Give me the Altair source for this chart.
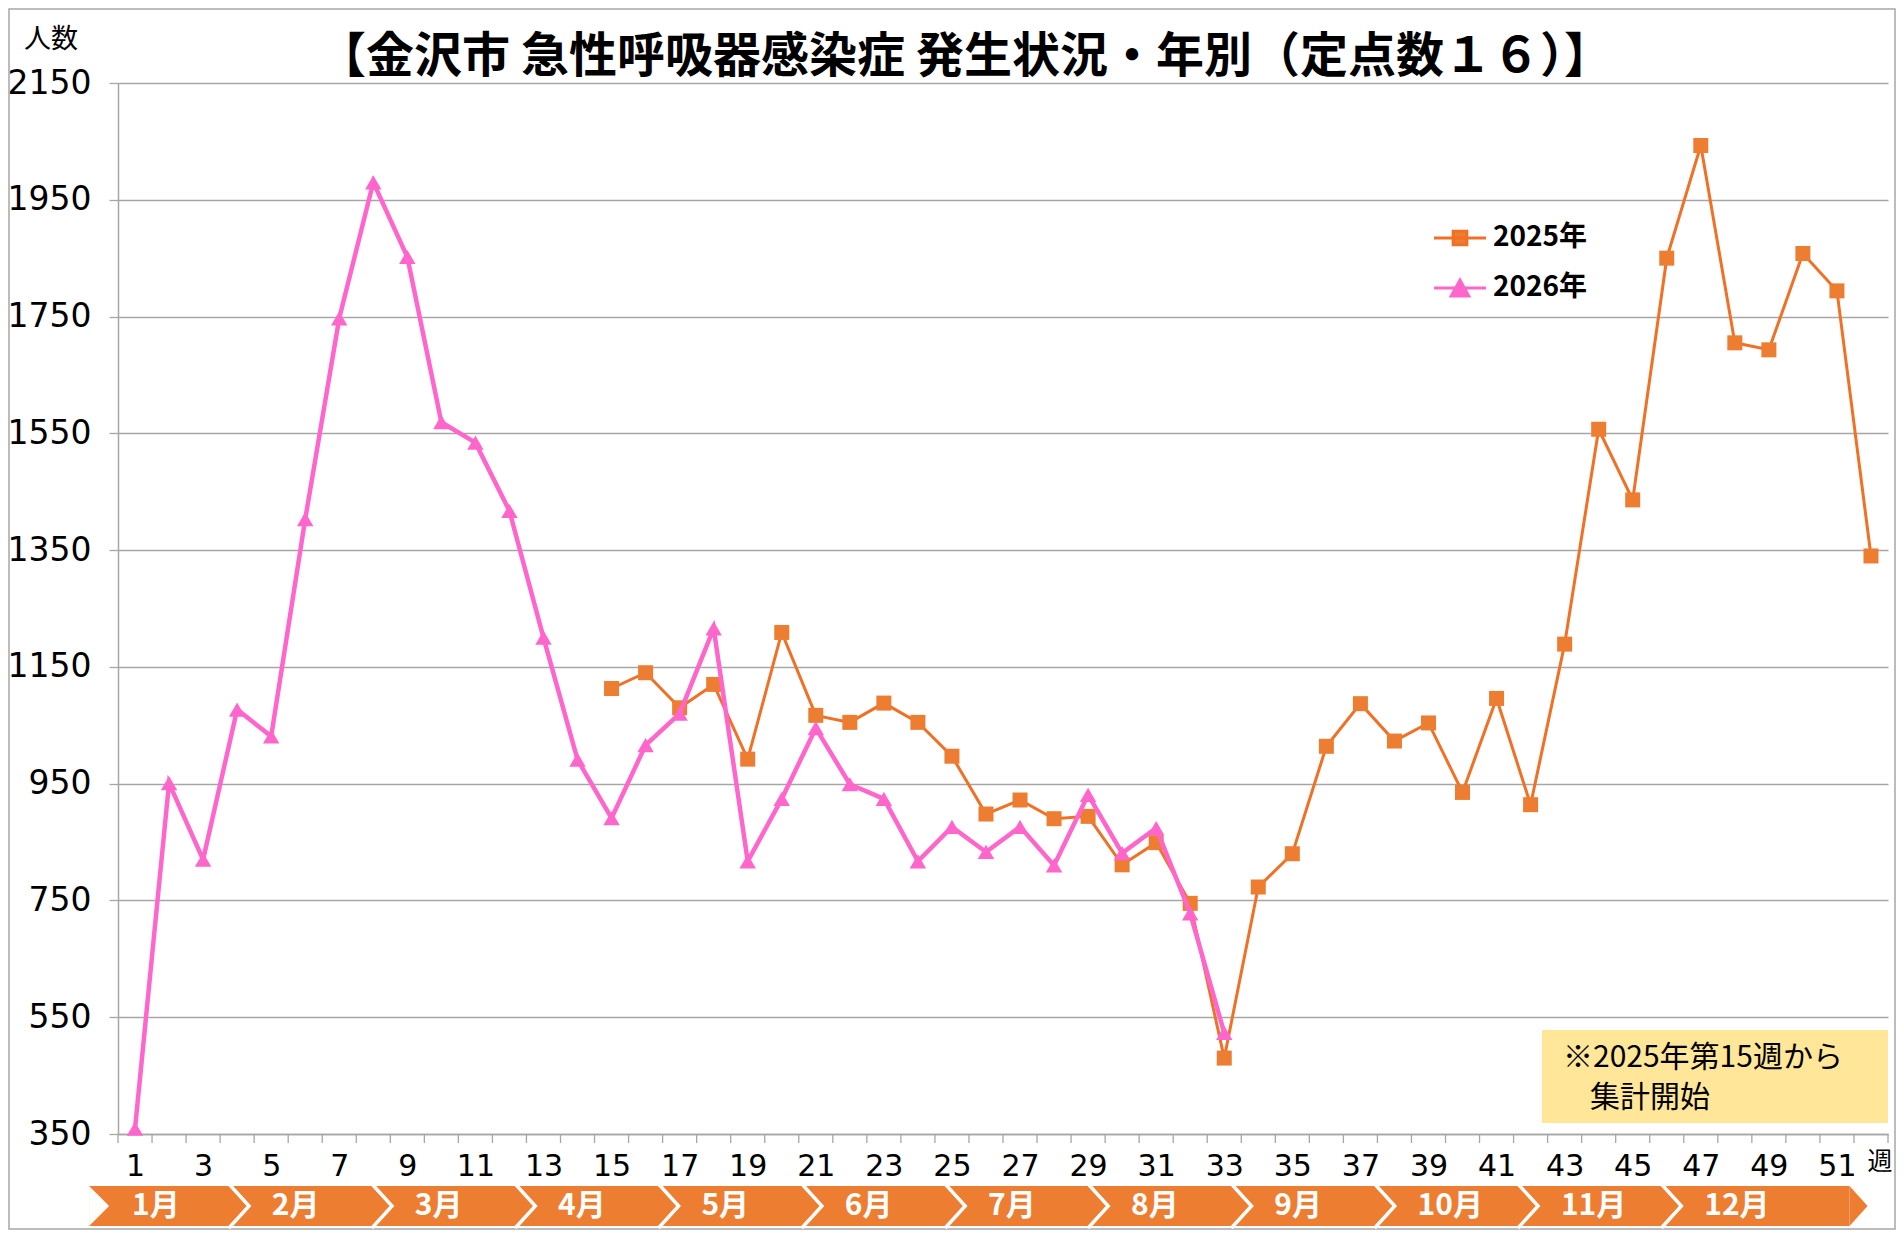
import altair as alt
import pandas as pd

# ---------------- data ----------------
series_names = ["2025年", "2026年"]

weeks_2025 = list(range(15, 53))
values_2025 = [1113, 1140, 1080, 1120, 992, 1209, 1067, 1055, 1088, 1055,
               997, 898, 922, 890, 894, 811, 849, 745, 480, 773,
               830, 1014, 1087, 1023, 1054, 935, 1096, 914, 1189, 1557,
               1436, 1850, 2043, 1705, 1693, 1858, 1794, 1340]

weeks_2026 = list(range(1, 34))
values_2026 = [359, 951, 820, 1077, 1031, 1403, 1747, 1980, 1852, 1569,
               1534, 1417, 1200, 991, 891, 1016, 1070, 1216, 817, 924,
               1045, 949, 924, 817, 876, 833, 876, 810, 931, 831,
               874, 728, 523]

all_weeks = list(range(1, 53))
x_tick_labels = list(range(1, 52, 2))
y_tick_values = list(range(350, 2151, 200))

months = ["1月", "2月", "3月", "4月", "5月", "6月",
          "7月", "8月", "9月", "10月", "11月", "12月"]
# month band segment starts, in week units
month_starts = [-0.35, 3.76, 7.96, 12.17, 16.38, 20.59,
                24.80, 29.00, 33.21, 37.42, 41.63, 45.84]
band_end = 51.37

title_text = "【金沢市 急性呼吸器感染症 発生状況・年別（定点数１６）】"
y_title = "人数"
x_unit = "週"
note_lines = ["※2025年第15週から", "集計開始"]

# ---------------- styles ----------------
W, H = 1770, 1051
ORANGE_LINE = "#F07125"
ORANGE = "#ED7D31"
PINK = "#FF66CC"
GRID = "#A6A6A6"
JP = "Noto Sans CJK JP"
NUM = "DejaVu Sans"

BAND_TOP, BAND_BOT = 1103, 1143
BAND_MID = (BAND_TOP + BAND_BOT) / 2
NOTCH = 0.59     # chevron depth in weeks
TIP = 0.53

xscale = alt.Scale(domain=[0.5, 52.5], nice=False, zero=False)
yscale = alt.Scale(domain=[350, 2150], nice=False, zero=False)

df25 = pd.DataFrame({"week": weeks_2025, "value": values_2025, "year": series_names[0]})
df26 = pd.DataFrame({"week": weeks_2026, "value": values_2026, "year": series_names[1]})

x_axis = alt.Axis(values=x_tick_labels, ticks=False, tickSize=0, grid=False,
                  domainColor=GRID, domainWidth=1.5, labelFont=NUM,
                  labelFontSize=30, labelColor="black", labelPadding=17,
                  title=None, labelFlush=False, format="d")
y_axis = alt.Axis(values=y_tick_values, grid=True, gridColor=GRID, gridWidth=1.3,
                  tickColor=GRID, tickSize=9, tickWidth=1.3, domainColor=GRID,
                  domainWidth=1.5, labelFont=NUM, labelFontSize=33,
                  labelColor="black", labelPadding=18, title=None, format="d")

base_x = alt.X("week:Q", scale=xscale, axis=x_axis)
base_y = alt.Y("value:Q", scale=yscale, axis=y_axis)

# ---------- series ----------
line25 = alt.Chart(df25).mark_line(color=ORANGE_LINE, strokeWidth=3).encode(x=base_x, y=base_y)
pts25 = alt.Chart(df25).mark_point(shape="square", filled=True, size=225, color=ORANGE,
                                   opacity=1).encode(x=alt.X("week:Q", scale=xscale),
                                                     y=alt.Y("value:Q", scale=yscale))
line26 = alt.Chart(df26).mark_line(color=PINK, strokeWidth=4.5).encode(
    x=alt.X("week:Q", scale=xscale), y=alt.Y("value:Q", scale=yscale))
pts26 = alt.Chart(df26).mark_point(shape="triangle-up", filled=True, size=270, color=PINK,
                                   opacity=1).encode(x=alt.X("week:Q", scale=xscale),
                                                     y=alt.Y("value:Q", scale=yscale))

# ---------- x tick marks at week boundaries ----------
tick_df = pd.DataFrame({"week": [w - 0.5 for w in all_weeks] + [all_weeks[-1] + 0.5]})
ticks = alt.Chart(tick_df).mark_rule(color=GRID, strokeWidth=1.3).encode(
    x=alt.X("week:Q", scale=xscale), y=alt.value(H), y2=alt.value(H + 9))

# ---------- legend (scale-only layer) ----------
path25 = "M-1,0L1,0M-0.26,-0.26L0.26,-0.26L0.26,0.26L-0.26,0.26Z"
path26 = "M-1,0L1,0M-0.33,0.3L0,-0.3L0.33,0.3Z"
leg = alt.Legend(orient="none", legendX=1314, legendY=127, title=None,
                 labelFont=JP, labelFontSize=28, labelFontWeight="bold",
                 labelColor="black", symbolSize=2704, symbolStrokeWidth=3.2,
                 symbolOpacity=1, labelOffset=5, rowPadding=8, padding=0)
legend_layer = alt.Chart(pd.DataFrame({"year": series_names})).mark_point(
    filled=True, opacity=1).encode(
    x=alt.value(0), y=alt.value(0),
    fill=alt.Fill("year:N", scale=alt.Scale(domain=series_names, range=[ORANGE, PINK]), legend=leg),
    stroke=alt.Stroke("year:N", scale=alt.Scale(domain=series_names, range=[ORANGE_LINE, PINK]), legend=leg),
    shape=alt.Shape("year:N", scale=alt.Scale(domain=series_names, range=[path25, path26]), legend=leg),
).transform_filter("false")

# ---------- month band ----------
band_df = pd.DataFrame({"x": [month_starts[0]], "x2": [band_end]})
band = alt.Chart(band_df).mark_rect(color=ORANGE).encode(
    x=alt.X("x:Q", scale=xscale), x2="x2:Q", y=alt.value(BAND_TOP), y2=alt.value(BAND_BOT))

notch_df = pd.DataFrame({"x": [month_starts[0], month_starts[0] + NOTCH],
                         "yt": [BAND_TOP, BAND_MID], "yb": [BAND_BOT, BAND_MID]})
notch = alt.Chart(notch_df).mark_area(color="white").encode(
    x=alt.X("x:Q", scale=xscale), y=alt.Y("yt:Q", scale=None), y2="yb:Q")

tip_df = pd.DataFrame({"x": [band_end, band_end + TIP],
                       "yt": [BAND_TOP, BAND_MID], "yb": [BAND_BOT, BAND_MID]})
tip = alt.Chart(tip_df).mark_area(color=ORANGE).encode(
    x=alt.X("x:Q", scale=xscale), y=alt.Y("yt:Q", scale=None), y2="yb:Q")

sep_rows = []
for i, s in enumerate(month_starts[1:]):
    sep_rows += [{"x": s, "py": BAND_TOP - 2, "k": i, "o": 0},
                 {"x": s + NOTCH, "py": BAND_MID, "k": i, "o": 1},
                 {"x": s, "py": BAND_BOT + 2, "k": i, "o": 2}]
seps = alt.Chart(pd.DataFrame(sep_rows)).mark_line(color="white", strokeWidth=3.5).encode(
    x=alt.X("x:Q", scale=xscale), y=alt.Y("py:Q", scale=None), detail="k:N", order="o:Q")

mlabel_df = pd.DataFrame({"m": months, "x": [s + 1.26 for s in month_starts]})
mlabels = alt.Chart(mlabel_df).mark_text(color="white", font=JP, fontSize=30,
                                         fontWeight="bold", align="left",
                                         baseline="middle").encode(
    x=alt.X("x:Q", scale=xscale), y=alt.value(BAND_MID), text="m:N")

# ---------- note box ----------
note_box = alt.Chart(pd.DataFrame({"a": [0]})).mark_rect(color="#FFE699").encode(
    x=alt.value(1424), x2=alt.value(W), y=alt.value(947), y2=alt.value(1040))
note1 = alt.Chart(pd.DataFrame({"t": [note_lines[0]]})).mark_text(
    font=JP, fontSize=30, color="black", align="left", baseline="middle").encode(
    x=alt.value(1445), y=alt.value(975), text="t:N")
note2 = alt.Chart(pd.DataFrame({"t": [note_lines[1]]})).mark_text(
    font=JP, fontSize=30, color="black", align="left", baseline="middle").encode(
    x=alt.value(1472), y=alt.value(1015), text="t:N")

# ---------- titles ----------
title = alt.Chart(pd.DataFrame({"t": [title_text]})).mark_text(
    font=JP, fontSize=48, fontWeight="bold", color="black", align="center",
    baseline="middle").encode(x=alt.value(847), y=alt.value(-25), text="t:N")
ytitle = alt.Chart(pd.DataFrame({"t": [y_title]})).mark_text(
    font=JP, fontSize=27, color="black", align="center", baseline="middle").encode(
    x=alt.value(-67), y=alt.value(-43), text="t:N")
xunit = alt.Chart(pd.DataFrame({"t": [x_unit]})).mark_text(
    font=JP, fontSize=25, color="black", align="center", baseline="middle").encode(
    x=alt.value(1762), y=alt.value(1079), text="t:N")

frame = alt.Chart(pd.DataFrame({"a": [0]})).mark_rect(
    fill=None, stroke=GRID, strokeWidth=1.5).encode(
    x=alt.value(-109), x2=alt.value(W + 7), y=alt.value(-74), y2=alt.value(H + 95))

chart = alt.layer(
    line25, frame, note_box, note1, note2, band, notch, tip, seps, mlabels, ticks,
    pts25, line26, pts26, legend_layer, title, ytitle, xunit,
).resolve_scale(fill="independent", stroke="independent", shape="independent").properties(
    width=W, height=H,
    padding={"left": 110, "top": 75, "right": 8, "bottom": 97},
    autosize=alt.AutoSizeParams(type="none"),
    background="white",
).configure_view(strokeWidth=0)

chart.save("out.html", embed_options={"renderer": "svg", "actions": False})
